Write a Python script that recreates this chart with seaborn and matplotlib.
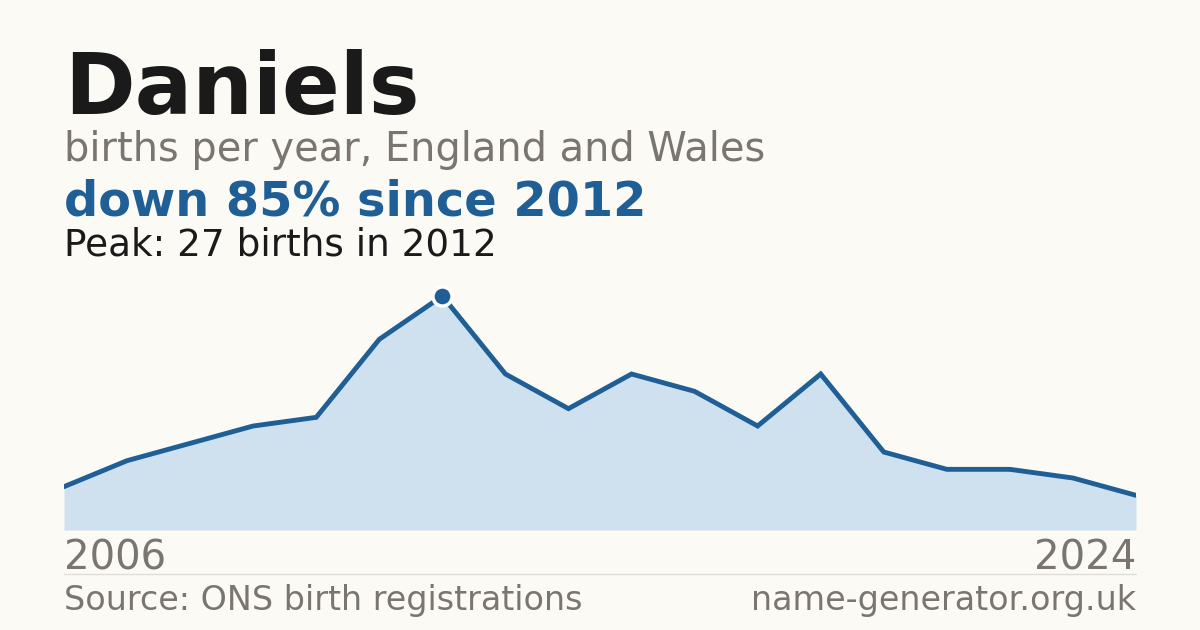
import matplotlib
matplotlib.use("Agg")
import matplotlib.pyplot as plt
import seaborn as sns
import pandas as pd

sns.set_theme(style="white")
plt.rcParams["font.family"] = ["DejaVu Sans"]

# data
name = "Daniels"
births = [5, 8, 10, 12, 13, 22, 27, 18, 14, 18, 16, 12, 18, 9, 7, 7, 6, 4]
first_year = "2006"
last_year = "2024"
peak_idx = 6

df = pd.DataFrame({"pos": range(len(births)), "births": births})

BG = "#fbfaf5"
BLUE = "#1f5f96"
FILL = "#cfe0ef"
GREY = "#7a7570"
INK = "#1a1a1a"

W, H = 1200, 630
fig = plt.figure(figsize=(12, 6.3), dpi=100, facecolor=BG)

def fx(px):
    return px / W

def fy(px):
    return 1 - px / H

# chart area
ax = fig.add_axes([fx(64), fy(530), fx(1136) - fx(64), (530 - 270) / H])
ax.set_facecolor(BG)
ax.fill_between(df["pos"], df["births"], 0, color=FILL, lw=0)
sns.lineplot(data=df, x="pos", y="births", ax=ax, color=BLUE, lw=3.5, solid_joinstyle="miter")
ax.scatter([peak_idx], [births[peak_idx]], s=190, color=BLUE, edgecolor="white", linewidth=2.5, zorder=5)
ax.axhline(0, color="#dddddd", lw=1)
ax.set_xlim(0, len(births) - 1)
ax.set_ylim(0, 30)
ax.set_axis_off()

# header
fig.text(fx(64), fy(114), name, fontsize=61.3, fontweight="bold", color=INK, va="baseline")
fig.text(fx(64), fy(161), "births per year, England and Wales", fontsize=28.7, color=GREY, va="baseline")
fig.text(fx(64), fy(215), "down 85% since 2012", fontsize=34.5, fontweight="bold", color=BLUE, va="baseline")
fig.text(fx(64), fy(255), "Peak: 27 births in 2012", fontsize=26.9, color=INK, va="baseline")

# axis ends
fig.text(fx(64), fy(570), first_year, fontsize=29, color=GREY, va="baseline")
fig.text(fx(1136), fy(570), last_year, fontsize=29, color=GREY, va="baseline", ha="right")

# footer
fig.add_artist(plt.Line2D([fx(64), fx(1136)], [fy(574), fy(574)], color="#dddddd", lw=1))
fig.text(fx(64), fy(610), "Source: ONS birth registrations", fontsize=24, color=GREY, va="baseline")
fig.text(fx(1136), fy(610), "name-generator.org.uk", fontsize=24, color=GREY, va="baseline", ha="right")

fig.savefig("out.png", dpi=100, facecolor=BG)
